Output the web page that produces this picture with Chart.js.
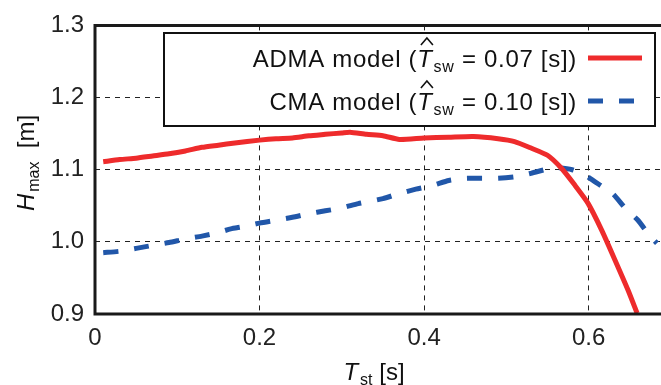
<!DOCTYPE html>
<html>
<head>
<meta charset="utf-8">
<script src="https://cdn.jsdelivr.net/npm/chart.js@4"></script>
<style>
  html, body { margin: 0; padding: 0; background: #fff; }
  #wrap { width: 661px; height: 385px; }
</style>
</head>
<body>
<div id="wrap"><canvas id="hmaxChart" width="661" height="385"></canvas></div>
<script>
// ADMA model (T_sw = 0.07 s)
let admaT = [0.01, 0.03, 0.05, 0.07, 0.09, 0.11, 0.13, 0.15, 0.17, 0.20, 0.22, 0.24, 0.26, 0.28, 0.30, 0.31,
    0.33, 0.35, 0.37, 0.40, 0.43, 0.46, 0.49, 0.51, 0.53, 0.55, 0.567, 0.583, 0.599, 0.616, 0.632, 0.648, 0.659];
let admaH = [1.111, 1.114, 1.116, 1.119, 1.122, 1.126, 1.131, 1.134, 1.137, 1.141, 1.143, 1.144, 1.147, 1.149, 1.151, 1.152,
    1.149, 1.147, 1.142, 1.144, 1.145, 1.146, 1.143, 1.139, 1.130, 1.120, 1.102, 1.079, 1.054, 1.016, 0.975, 0.933, 0.901];

// CMA model (T_sw = 0.10 s)
let cmaT = [0.01, 0.03, 0.05, 0.07, 0.09, 0.11, 0.13, 0.15, 0.165, 0.18, 0.20, 0.22, 0.24, 0.26, 0.28, 0.30, 0.32,
    0.35, 0.37, 0.39, 0.41, 0.43, 0.45, 0.47, 0.49, 0.51, 0.53, 0.55, 0.56, 0.58, 0.595, 0.616, 0.63, 0.645, 0.66, 0.672, 0.683];
let cmaH = [0.985, 0.987, 0.991, 0.995, 0.999, 1.004, 1.008, 1.013, 1.018, 1.021, 1.026, 1.030, 1.034, 1.039, 1.043, 1.047, 1.053,
    1.060, 1.067, 1.073, 1.078, 1.085, 1.088, 1.088, 1.088, 1.090, 1.095, 1.101, 1.103, 1.100, 1.093, 1.077, 1.066, 1.046, 1.030, 1.012, 0.998];

let xTicks = [0, 0.2, 0.4, 0.6];
let yTicks = [0.9, 1.0, 1.1, 1.2, 1.3];
let xTickLabels = ["0", "0.2", "0.4", "0.6"];
let yTickLabels = ["0.9", "1.0", "1.1", "1.2", "1.3"];

let legendRows = [
    { name: "ADMA model (", value: " = 0.07 [s])", color: "#ee2b2c", dash: [] },
    { name: "CMA model (", value: " = 0.10 [s])", color: "#2157a9", dash: [15, 16] },
];

const FONT = "'Liberation Sans', Arial, Helvetica, sans-serif";
const FS = 24;
const SUB = 16;

function toPoints(xs, ys) {
    return xs.map((x, i) => ({ x: x, y: ys[i] }));
}

// T with a hat and a subscript, drawn left to right, returns end x
function drawHatT(ctx, x, base, sub) {
    ctx.font = "italic " + FS + "px " + FONT;
    let tw = ctx.measureText("T").width;
    ctx.fillText("T", x, base);
    // hat
    let cx = x + tw / 2 + 2;
    ctx.beginPath();
    ctx.lineWidth = 1.6;
    ctx.moveTo(cx - 6, base - 22);
    ctx.lineTo(cx, base - 29);
    ctx.lineTo(cx + 6, base - 22);
    ctx.stroke();
    x += tw + 1;
    ctx.font = SUB + "px " + FONT;
    ctx.fillText(sub, x, base + 5);
    return x + ctx.measureText(sub).width;
}

let framePlugin = {
    id: "frame",
    afterDatasetsDraw(chart) {
        let ctx = chart.ctx;
        let a = chart.chartArea;
        ctx.save();
        // axes frame (left, bottom, top)
        ctx.strokeStyle = "#1a1a1a";
        ctx.lineWidth = 3;
        ctx.beginPath();
        ctx.moveTo(chart.width, a.top);
        ctx.lineTo(a.left, a.top);
        ctx.lineTo(a.left, a.bottom);
        ctx.lineTo(chart.width, a.bottom);
        ctx.stroke();

        // legend
        let bx = 164, by = 33, bw = 491, bh = 93;
        ctx.fillStyle = "#fff";
        ctx.fillRect(bx, by, bw, bh);
        ctx.lineWidth = 2;
        ctx.strokeStyle = "#111";
        ctx.strokeRect(bx, by, bw, bh);

        ctx.letterSpacing = "0.7px";
        legendRows.forEach((row, i) => {
            let base = 67 + i * 43;
            ctx.fillStyle = "#111";
            ctx.strokeStyle = "#111";
            ctx.textBaseline = "alphabetic";
            ctx.textAlign = "left";
            ctx.font = FS + "px " + FONT;
            let w1 = ctx.measureText(row.name).width;
            ctx.font = "italic " + FS + "px " + FONT;
            let wt = ctx.measureText("T").width + 1;
            ctx.font = SUB + "px " + FONT;
            let ws = ctx.measureText("sw").width;
            ctx.font = FS + "px " + FONT;
            let w2 = ctx.measureText(row.value).width;
            let x = 577 - (w1 + wt + ws + w2);
            ctx.fillText(row.name, x, base);
            x = drawHatT(ctx, x + w1, base, "sw");
            ctx.font = FS + "px " + FONT;
            ctx.fillText(row.value, x, base);

            ctx.beginPath();
            ctx.lineWidth = 5;
            ctx.strokeStyle = row.color;
            ctx.setLineDash(row.dash);
            ctx.moveTo(588, base - 9);
            ctx.lineTo(642, base - 9);
            ctx.stroke();
            ctx.setLineDash([]);
        });
        ctx.letterSpacing = "0px";

        // axis titles
        ctx.fillStyle = "#111";
        ctx.strokeStyle = "#111";
        ctx.textAlign = "left";
        ctx.font = "italic " + FS + "px " + FONT;
        let tw = ctx.measureText("T").width;
        ctx.font = SUB + "px " + FONT;
        let sw = ctx.measureText("st").width;
        ctx.font = FS + "px " + FONT;
        let rw = ctx.measureText(" [s]").width;
        let xs = 374 - (tw + 2 + sw + rw) / 2;
        ctx.font = "italic " + FS + "px " + FONT;
        ctx.fillText("T", xs, 380);
        ctx.font = SUB + "px " + FONT;
        ctx.fillText("st", xs + tw + 2, 385);
        ctx.font = FS + "px " + FONT;
        ctx.fillText(" [s]", xs + tw + 2 + sw, 380);

        ctx.translate(34, 163);
        ctx.rotate(-Math.PI / 2);
        ctx.font = "italic " + FS + "px " + FONT;
        let hw = ctx.measureText("H").width;
        ctx.font = SUB + "px " + FONT;
        let mw = ctx.measureText("max").width;
        ctx.font = FS + "px " + FONT;
        let bw2 = ctx.measureText("  [m]").width;
        let ys = -(hw + 2 + mw + bw2) / 2;
        ctx.font = "italic " + FS + "px " + FONT;
        ctx.fillText("H", ys, 0);
        ctx.font = SUB + "px " + FONT;
        ctx.fillText("max", ys + hw + 2, 5);
        ctx.font = FS + "px " + FONT;
        ctx.fillText("  [m]", ys + hw + 2 + mw, 0);
        ctx.restore();
    },
};

let gridColor = function(ctx) {
    let v = ctx.tick ? ctx.tick.value : null;
    if (v === 0 || v === 0.9 || v === 1.3) return "rgba(0,0,0,0)";
    return "#222";
};

new Chart(document.getElementById("hmaxChart").getContext("2d"), {
    type: "line",
    data: {
        datasets: [{
            label: "ADMA model",
            data: toPoints(admaT, admaH),
            borderColor: "#ee2b2c",
            borderWidth: 5,
            pointRadius: 0,
            tension: 0.2,
        }, {
            label: "CMA model",
            data: toPoints(cmaT, cmaH),
            borderColor: "#2157a9",
            borderWidth: 5,
            borderDash: [15, 16],
            pointRadius: 0,
            tension: 0.2,
        }, ],
    },
    options: {
        responsive: false,
        animation: false,
        layout: { padding: { top: 25, right: 0, left: 0, bottom: 0 } },
        plugins: {
            legend: { display: false },
            tooltip: { enabled: false },
        },
        scales: {
            x: {
                type: "linear",
                min: 0,
                max: 0.688,
                afterBuildTicks: (scale) => {
                    scale.ticks = xTicks.map((v) => ({ value: v }));
                },
                afterFit: (scale) => {
                    scale.height = 71;
                },
                ticks: {
                    callback: (v) => xTickLabels[xTicks.indexOf(v)],
                    font: { family: FONT, size: FS },
                    color: "#222",
                    padding: 10,
                    maxRotation: 0,
                },
                grid: { color: gridColor, lineWidth: 1, drawTicks: false },
                border: { display: false, dash: [5, 5] },
            },
            y: {
                min: 0.9,
                max: 1.3,
                afterBuildTicks: (scale) => {
                    scale.ticks = yTicks.map((v) => ({ value: v }));
                },
                afterFit: (scale) => {
                    scale.width = 95;
                },
                ticks: {
                    callback: (v) => yTickLabels[yTicks.indexOf(v)],
                    font: { family: FONT, size: FS },
                    color: "#222",
                    padding: 11,
                },
                grid: { color: gridColor, lineWidth: 1, drawTicks: false },
                border: { display: false, dash: [5, 5] },
            },
        },
    },
    plugins: [framePlugin],
});
</script>
</body>
</html>
